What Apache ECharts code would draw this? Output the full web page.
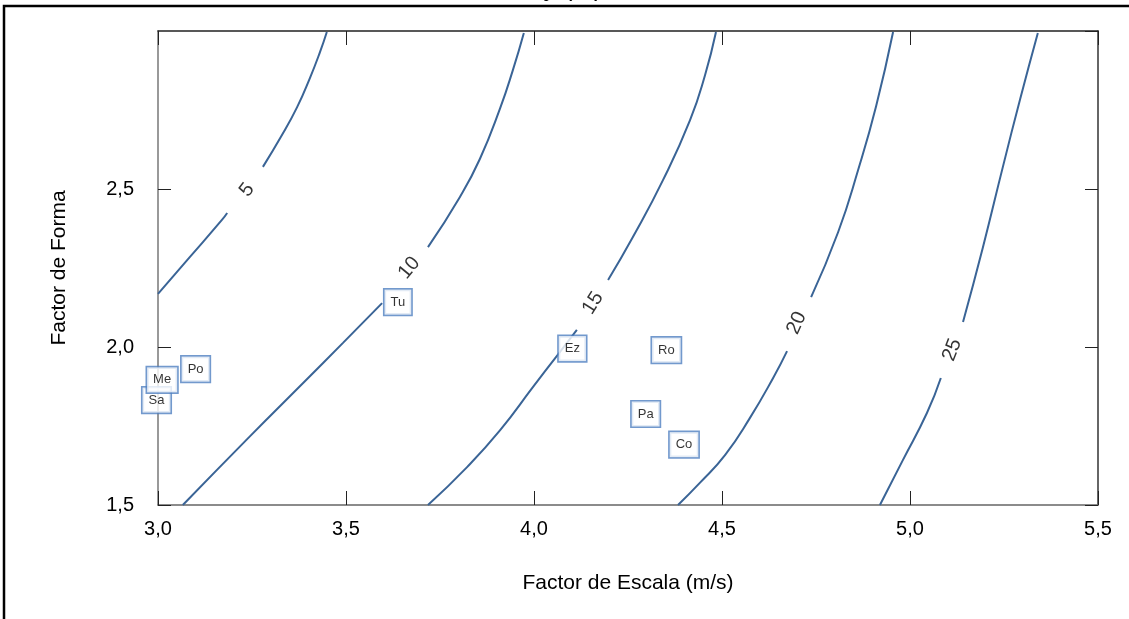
<!DOCTYPE html>
<html>
<head>
<meta charset="utf-8">
<script src="https://cdn.jsdelivr.net/npm/echarts@6/dist/echarts.min.js"></script>
<style>
html,body{margin:0;padding:0;background:#fff;}
#c{width:1129px;height:619px;}
</style>
</head>
<body>
<div id="c"></div>
<script>
// ---- data ----
const xTicks = [3.0, 3.5, 4.0, 4.5, 5.0, 5.5];
const yTicks = [1.5, 2.0, 2.5, 3.0];

const stationNames = ['Sa', 'Me', 'Po', 'Tu', 'Ez', 'Ro', 'Pa', 'Co'];
const stationX = [2.996, 3.011, 3.100, 3.638, 4.102, 4.352, 4.297, 4.399];
const stationY = [1.832, 1.896, 1.930, 2.142, 1.995, 1.990, 1.788, 1.691];

const contourLevels = [5, 10, 15, 20, 25];
// each contour: lower segment and upper segment (split by its label)
const c5Lower  = [[3.000, 2.168], [3.085, 2.285], [3.170, 2.402], [3.184, 2.424]];
const c5Upper  = [[3.279, 2.570], [3.327, 2.665], [3.370, 2.759], [3.404, 2.851], [3.431, 2.934], [3.449, 2.997]];
const c10Lower = [[3.066, 1.500], [3.245, 1.718], [3.386, 1.886], [3.492, 2.013], [3.596, 2.139]];
const c10Upper = [[3.718, 2.316], [3.803, 2.475], [3.856, 2.595], [3.910, 2.756], [3.944, 2.877], [3.973, 2.994]];
const c15Lower = [[3.718, 1.500], [3.822, 1.620], [3.910, 1.737], [3.997, 1.873], [4.061, 1.972], [4.114, 2.054]];
const c15Upper = [[4.197, 2.212], [4.263, 2.348], [4.343, 2.528], [4.415, 2.718], [4.455, 2.861], [4.484, 2.997]];
const c20Lower = [[4.383, 1.500], [4.441, 1.570], [4.508, 1.658], [4.574, 1.775], [4.636, 1.902], [4.673, 1.987]];
const c20Upper = [[4.737, 2.158], [4.809, 2.364], [4.862, 2.560], [4.910, 2.763], [4.955, 2.997]];
const c25Lower = [[4.920, 1.500], [4.981, 1.642], [5.045, 1.791], [5.082, 1.902]];
const c25Upper = [[5.141, 2.079], [5.194, 2.316], [5.247, 2.570], [5.293, 2.785], [5.340, 2.994]];
const contourLabelX = [3.237, 3.668, 4.157, 4.699, 5.112];
const contourLabelY = [2.497, 2.250, 2.139, 2.076, 1.991];

const xTitle = 'Factor de Escala (m/s)';
const yTitle = 'Factor de Forma';
const topTitle = ', y (m)';

// ---- chart ----
const lowers = [c5Lower, c10Lower, c15Lower, c20Lower, c25Lower];
const uppers = [c5Upper, c10Upper, c15Upper, c20Upper, c25Upper];
const FONT = '"Liberation Sans", Arial, sans-serif';
const LINE = '#3a6496';
const fmt = v => v.toFixed(1).replace('.', ',');

const chart = echarts.init(document.getElementById('c'));

function buildSeries(rotations) {
  const series = [];
  contourLevels.forEach((lv, i) => {
    [lowers[i], uppers[i]].forEach(seg => {
      series.push({
        type: 'line', data: seg, smooth: 0.5, showSymbol: false, silent: true,
        lineStyle: { color: LINE, width: 2 }, z: 2, clip: true
      });
    });
  });
  series.push({
    type: 'scatter', symbolSize: 0, z: 3, silent: true,
    data: contourLevels.map((lv, i) => ({
      value: [contourLabelX[i], contourLabelY[i]],
      label: { rotate: rotations[i] }
    })),
    label: {
      show: true, position: 'inside', color: '#000', fontSize: 20, fontFamily: FONT,
      formatter: p => String(contourLevels[p.dataIndex])
    }
  });
  series.push({
    type: 'scatter', symbolSize: 0, z: 5, clip: false, silent: true,
    data: stationNames.map((n, i) => [stationX[i], stationY[i]]),
    label: {
      show: true, position: 'inside', color: '#000', fontSize: 13, fontFamily: FONT,
      formatter: p => stationNames[p.dataIndex],
      backgroundColor: '#fff', borderColor: '#4f7fc0', borderWidth: 1.6,
      padding: [7, 6, 5, 6]
    }
  });
  return series;
}

const option = {
  animation: false,
  backgroundColor: '#fff',
  grid: { left: 158, right: 31, top: 31, bottom: 114 },
  xAxis: [{
    type: 'value', min: xTicks[0], max: xTicks[xTicks.length - 1], interval: 0.5,
    name: xTitle, nameLocation: 'middle', nameGap: 68,
    nameTextStyle: { color: '#000', fontSize: 21, fontFamily: FONT },
    axisLine: { show: true, lineStyle: { color: '#666', width: 1.5 } },
    axisTick: { show: true, inside: true, length: 14, lineStyle: { color: '#222', width: 1 } },
    axisLabel: { color: '#000', fontSize: 20, fontFamily: FONT, margin: 14, formatter: fmt },
    splitLine: { show: false }
  }, {
    type: 'value', position: 'top', min: xTicks[0], max: xTicks[xTicks.length - 1], interval: 0.5,
    axisLine: { show: true, lineStyle: { color: '#222', width: 1.5 } },
    axisTick: { show: true, inside: true, length: 14, lineStyle: { color: '#222', width: 1 } },
    axisLabel: { show: false }, splitLine: { show: false }
  }],
  yAxis: [{
    type: 'value', min: yTicks[0], max: yTicks[yTicks.length - 1], interval: 0.5,
    name: yTitle, nameLocation: 'middle', nameGap: 88, nameRotate: 90,
    nameTextStyle: { color: '#000', fontSize: 21, fontFamily: FONT },
    axisLine: { show: true, lineStyle: { color: '#777', width: 1.5 } },
    axisTick: { show: true, inside: true, length: 13, lineStyle: { color: '#222', width: 1 } },
    axisLabel: { color: '#000', fontSize: 20, fontFamily: FONT, margin: 24, showMaxLabel: false, formatter: fmt },
    splitLine: { show: false }
  }, {
    type: 'value', position: 'right', min: yTicks[0], max: yTicks[yTicks.length - 1], interval: 0.5,
    axisLine: { show: true, lineStyle: { color: '#333', width: 1.5 } },
    axisTick: { show: true, inside: true, length: 13, lineStyle: { color: '#222', width: 1 } },
    axisLabel: { show: false }, splitLine: { show: false }
  }],
  graphic: [{
    type: 'rect', silent: true, z: 0,
    shape: { x: 4, y: 6, width: 1140, height: 630 },
    style: { fill: null, stroke: '#000', lineWidth: 2.5 }
  }, {
    type: 'text', silent: true,
    style: { x: 529, y: 2, text: topTitle, textAlign: 'left', textVerticalAlign: 'bottom',
             fill: '#000', fontSize: 26, fontFamily: FONT }
  }],
  series: buildSeries(contourLevels.map(() => 0))
};
chart.setOption(option);

// label rotation follows the contour direction across the label gap
const rot = contourLevels.map((lv, i) => {
  const a = chart.convertToPixel({ gridIndex: 0 }, lowers[i][lowers[i].length - 1]);
  const b = chart.convertToPixel({ gridIndex: 0 }, uppers[i][0]);
  return Math.atan2(a[1] - b[1], b[0] - a[0]) * 180 / Math.PI;
});
chart.setOption({ series: buildSeries(rot) });
</script>
</body>
</html>
